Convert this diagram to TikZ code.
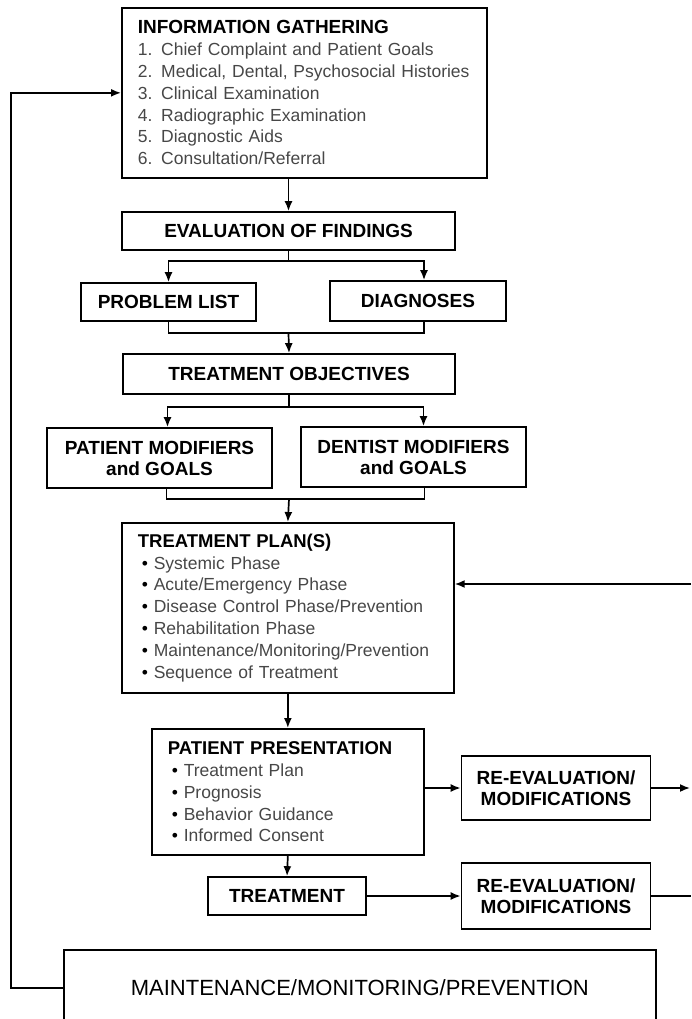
\documentclass[tikz,border=0pt]{standalone}
\usepackage{fontspec}
\setmainfont{Liberation Sans}
\usetikzlibrary{arrows.meta,calc}

\newcommand{\bul}{\hspace*{4pt}\textcolor{black}{\textbullet}\ }

\begin{document}
\begin{tikzpicture}[x=1pt, y=-1pt,
  box/.style={draw, line width=1.7pt, inner sep=0pt, align=center, font=\fontsize{19}{21}\selectfont\bfseries},
  listbox/.style={draw, line width=1.7pt, anchor=north west, inner xsep=16pt, inner ysep=0pt, align=left, text=black!72, font=\fontsize{17.5}{21.8}\selectfont},
  arr/.style={-{Latex[length=10pt,width=8pt]}, line width=1.7pt},
  ln/.style={line width=1.7pt}
]
\useasboundingbox (0,0) rectangle (691,1019);
\clip (0,0) rectangle (691,1019);

% top block
\node[listbox, minimum width=365pt, minimum height=170pt, text width=333pt] (info) at (121,7) {{\fontsize{19}{21.8}\selectfont\bfseries\color{black}INFORMATION GATHERING}\\1. Chief Complaint and Patient Goals\\2. Medical, Dental, Psychosocial Histories\\3. Clinical Examination\\4. Radiographic Examination\\5. Diagnostic Aids\\6. Consultation/Referral};

\node[box, minimum width=333pt, minimum height=38pt] (eval) at (288.5,231) {EVALUATION OF FINDINGS};
\node[box, minimum width=175pt, minimum height=38pt] (prob) at (168.5,302) {PROBLEM LIST};
\node[box, minimum width=176pt, minimum height=40pt] (diag) at (418,301) {DIAGNOSES};
\node[box, minimum width=332pt, minimum height=40pt] (obj) at (289,374) {TREATMENT OBJECTIVES};
\node[box, minimum width=225pt, minimum height=60pt] (patmod) at (159.5,458) {PATIENT MODIFIERS\\and GOALS};
\node[box, minimum width=225pt, minimum height=60pt] (dentmod) at (413.5,457) {DENTIST MODIFIERS\\and GOALS};

% plan and presentation
\node[listbox, minimum width=332pt, minimum height=170pt, text width=300pt] (plan) at (121,522) {{\fontsize{18.5}{21.8}\selectfont\bfseries\color{black}TREATMENT PLAN(S)}\\\bul Systemic Phase\\\bul Acute/Emergency Phase\\\bul Disease Control Phase/Prevention\\\bul Rehabilitation Phase\\\bul Maintenance/Monitoring/Prevention\\\bul Sequence of Treatment};
\node[listbox, minimum width=272pt, minimum height=126pt, text width=240pt] (pres) at (151,728) {{\fontsize{18.5}{21.8}\selectfont\bfseries\color{black}PATIENT PRESENTATION}\\\bul Treatment Plan\\\bul Prognosis\\\bul Behavior Guidance\\\bul Informed Consent};
\node[box, minimum width=189pt, minimum height=64pt] (reevalA) at (556,788) {RE-EVALUATION/\\MODIFICATIONS};
\node[box, minimum width=158pt, minimum height=38pt] (treat) at (287,896) {TREATMENT};
\node[box, minimum width=189pt, minimum height=66pt] (reevalB) at (556,896) {RE-EVALUATION/\\MODIFICATIONS};
\node[box, anchor=north west, minimum width=592pt, minimum height=76pt, font=\fontsize{22}{24}\selectfont] (maint) at (63,949) {MAINTENANCE/MONITORING/PREVENTION};

\coordinate (splitA) at (288.5,261);
\coordinate (joinA) at (288.5,333);
\coordinate (splitB) at (289,407);
\coordinate (joinB) at (289,499);
\coordinate (inA) at (691,584);
\coordinate (outA) at (690,788);
\coordinate (outB) at (691,896);

\draw[arr] (eval.north |- info.south) -- (eval.north);
\draw[ln] (eval.south) -- (splitA);
\draw[arr] (splitA) -| (prob.north);
\draw[arr] (splitA) -| ([xshift=6pt]diag.north);
\draw[ln] (prob.south) |- (joinA) -| ([xshift=6pt]diag.south);
\draw[arr] (joinA) -- (obj.north);
\draw[ln] (obj.south) -- (splitB);
\draw[arr] (splitB) -| ([xshift=8pt]patmod.north);
\draw[arr] (splitB) -| ([xshift=10pt]dentmod.north);
\draw[ln] ([xshift=7pt]patmod.south) |- (joinB) -| ([xshift=11pt]dentmod.south);
\draw[arr] (joinB) -- (plan.north);
\draw[arr] (inA) -- (inA -| plan.east);
\draw[arr] (plan.south) -- (pres.north);
\draw[arr] (outA -| pres.east) -- (reevalA.west);
\draw[arr] (reevalA.east) -- (outA);
\draw[arr] (pres.south) -- (treat.north);
\draw[arr] (treat.east) -- (reevalB.west);
\draw[ln] (reevalB.east) -- (outB);
\draw[arr] (maint.west) -- ++(-52,0) |- (info.west);
\end{tikzpicture}
\end{document}
